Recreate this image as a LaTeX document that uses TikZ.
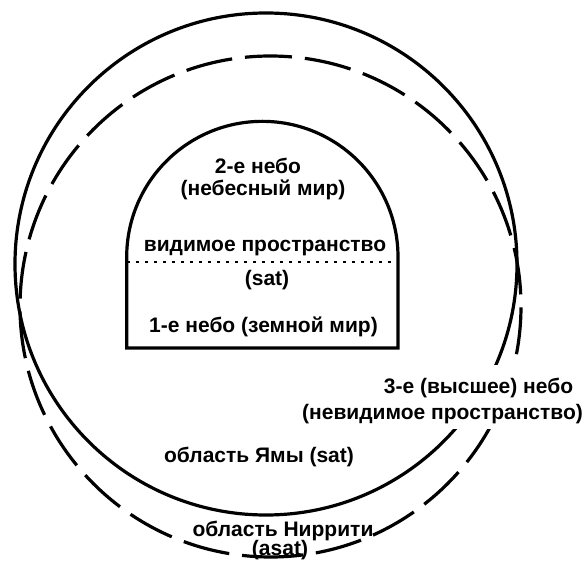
\documentclass[tikz,border=0pt]{standalone}
\usepackage{fontspec}
\setmainfont{Liberation Sans}
\begin{document}
\begin{tikzpicture}[x=1pt,y=1pt,
  lbl/.style={anchor=base,inner sep=0pt,font=\fontsize{21}{25}\selectfont\bfseries},
  ring/.style={line width=3.2pt},
  dashring/.style={line width=3.2pt,dash pattern=on 47pt off 13pt},
  dome/.style={line width=3.2pt,line join=miter},
  dotline/.style={line width=2.8pt,dash pattern=on 2.8pt off 6.2pt},
  mask/.style={fill=white,draw=none}]
\useasboundingbox (0,0) rectangle (584,563);
\fill[white] (0,0) rectangle (584,563);
% outer circles
\draw[ring] (266,299) circle[radius=251pt];
\draw[dashring] (270.5,256.5) ++(-93.3:250.5pt) arc[start angle=-93.3,end angle=266.7,radius=250.5pt];
% white band behind the label of the third heaven
\fill[mask] (300,134) rectangle (584,198);
% dome
\coordinate (bl) at (126.7,215);
\coordinate (br) at (398,215);
\draw[dome] (bl) -- (126.7,306) arc[start angle=180,end angle=0,radius=135.65pt] -- (br) -- cycle;
\coordinate (dl) at (127,301);
\coordinate (dr) at (398,301);
\draw[dotline] (dl) -- (dr);
% labels
\node[lbl] (h2a) at (258,389.7) {2-е небо};
\node[lbl] (h2b) at (263,367) {(небесный мир)};
\node[lbl] (vis) at (265,311.3) {видимое пространство};
\node[lbl] (sat1) at (267,277.3) {(sat)};
\node[lbl] (h1) at (263.5,230) {1-е небо (земной мир)};
\node[lbl] (h3a) at (478.5,170) {3-е (высшее) небо};
\node[lbl] (h3b) at (442.5,143) {(невидимое пространство)};
\node[lbl] (yama) at (259,101) {область Ямы (sat)};
\node[lbl] (nir) at (283,27) {область Ниррити};
\node[lbl] (asat) at (280,8) {(asat)};
\end{tikzpicture}
\end{document}
